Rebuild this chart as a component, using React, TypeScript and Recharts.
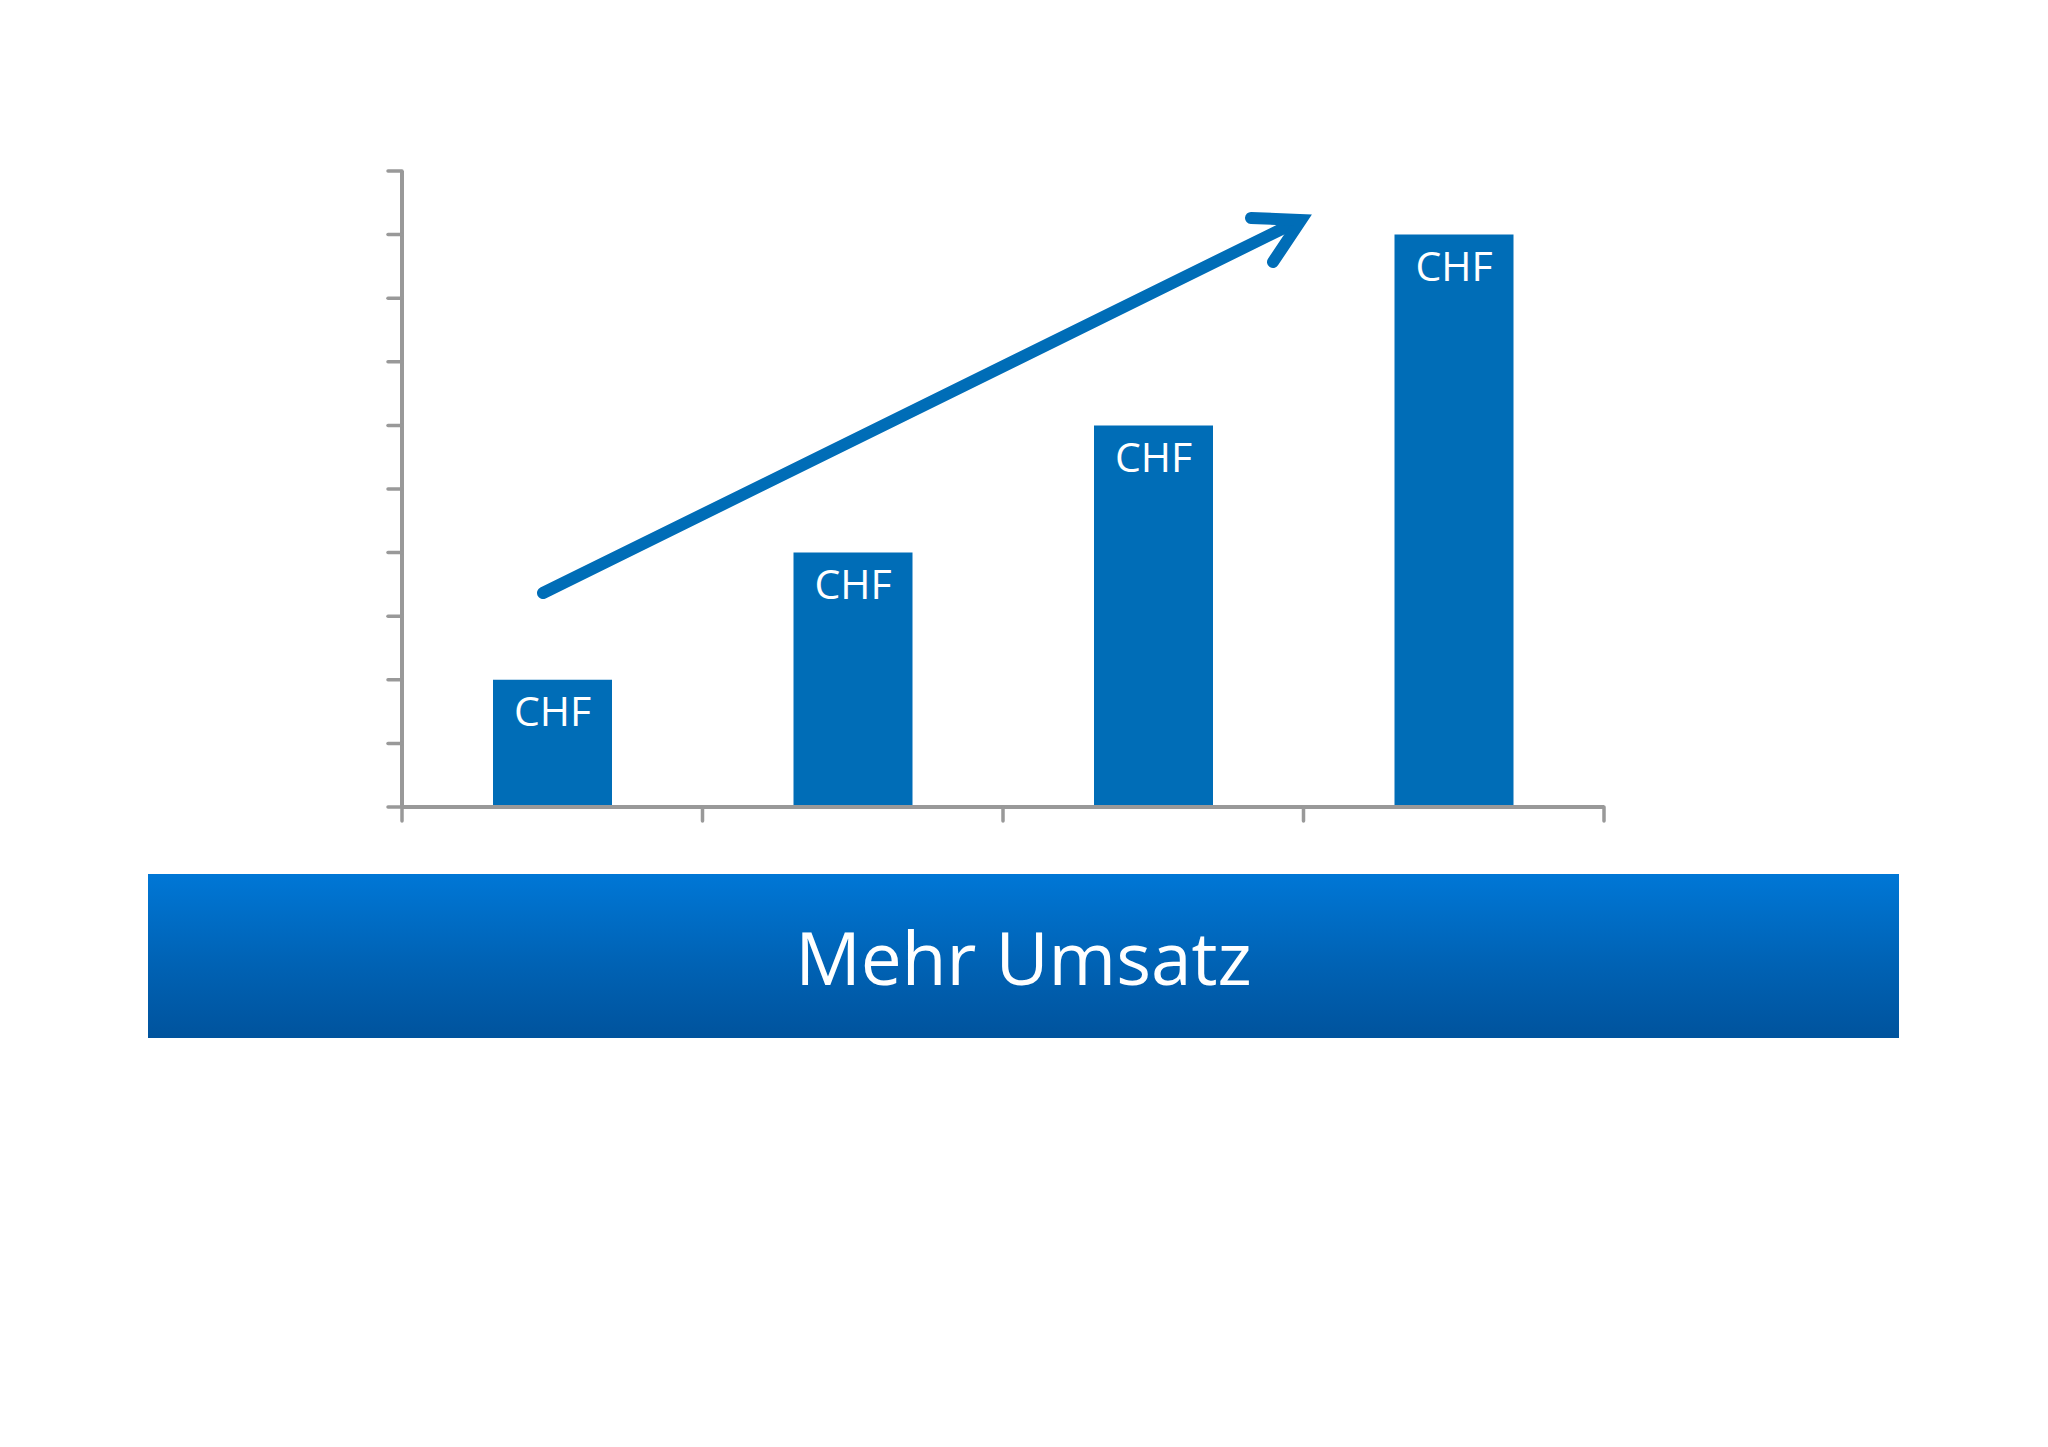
import { BarChart, Bar, XAxis, YAxis, LabelList } from 'recharts';

const categories = ['Jahr 1', 'Jahr 2', 'Jahr 3', 'Jahr 4'];
const revenue = [2, 4, 6, 9];
const barLabels = ['CHF', 'CHF', 'CHF', 'CHF'];
const yTicks = [0, 1, 2, 3, 4, 5, 6, 7, 8, 9, 10];
const xTicks = [0, 1, 2, 3, 4];
const bannerText = 'Mehr Umsatz';

// bars sit in the middle of each slot between the x ticks
const data = categories.map((name, i) => ({ name, x: i + 0.5, value: revenue[i], label: barLabels[i] }));

const AXIS = '#999999';
const BLUE = '#006db7';
const FONT = '"Open Sans", "Noto Sans", sans-serif';

export default function App() {
  return (
    <div style={{ position: 'absolute', left: 0, top: 0, width: 2048, height: 1447, background: '#fff', fontFamily: FONT }}>
      <div style={{ position: 'absolute', left: 0, top: 0 }}>
        <BarChart
          width={2048}
          height={900}
          data={data}
          margin={{ top: 171, right: 444, left: 382, bottom: 73 }}
          barSize={119}
        >
          <XAxis
            dataKey="x"
            type="number"
            domain={[0, 4]}
            ticks={xTicks}
            height={20}
            tickSize={14}
            tickFormatter={() => ''}
            axisLine={{ stroke: AXIS, strokeWidth: 4 }}
            tickLine={{ stroke: AXIS, strokeWidth: 3.5, strokeLinecap: 'round' }}
          />
          <YAxis
            domain={[0, 10]}
            ticks={yTicks}
            width={20}
            tickSize={14}
            tickFormatter={() => ''}
            axisLine={{ stroke: AXIS, strokeWidth: 4 }}
            tickLine={{ stroke: AXIS, strokeWidth: 3.5, strokeLinecap: 'round' }}
          />
          <Bar dataKey="value" fill={BLUE} isAnimationActive={false}>
            <LabelList dataKey="label" position="insideTop" offset={17} fill="#ffffff" fontSize={41} fontFamily={FONT} />
          </Bar>
        </BarChart>
      </div>
      <svg width={2048} height={900} style={{ position: 'absolute', left: 0, top: 0, pointerEvents: 'none' }}>
        <line x1={543} y1={593} x2={1294} y2={223} stroke={BLUE} strokeWidth={12} strokeLinecap="round" />
        <polyline
          points="1251,218 1301,220 1273,262"
          fill="none"
          stroke={BLUE}
          strokeWidth={12}
          strokeLinecap="round"
          strokeLinejoin="miter"
        />
      </svg>
      <div
        style={{
          position: 'absolute',
          left: 148,
          top: 874,
          width: 1751,
          height: 164,
          background: 'linear-gradient(to bottom, #0077d6, #0062b4 55%, #00539d)',
          display: 'flex',
          alignItems: 'center',
          justifyContent: 'center',
          color: '#fff',
          fontSize: 73,
          fontFamily: FONT,
        }}
      >
        {bannerText}
      </div>
    </div>
  );
}
